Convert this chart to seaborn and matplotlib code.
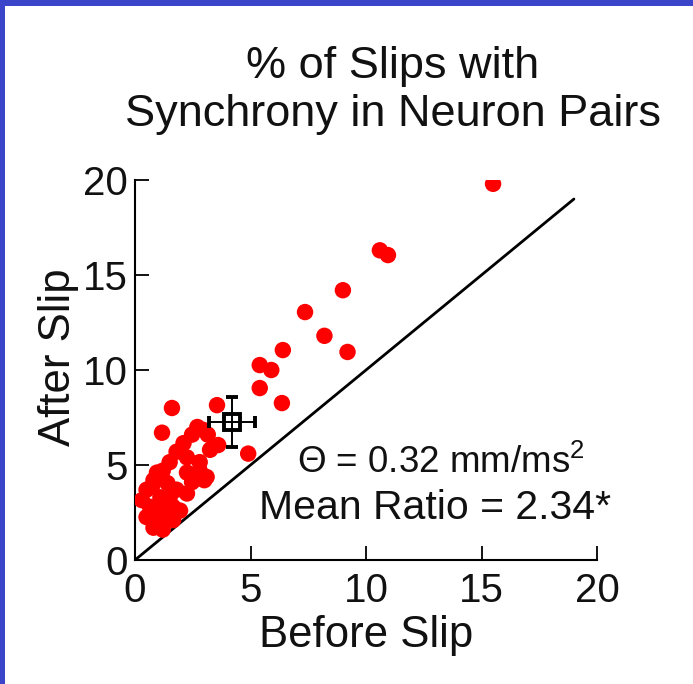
import matplotlib
matplotlib.use("Agg")
import matplotlib.pyplot as plt
import seaborn as sns
import pandas as pd
from matplotlib.patches import Rectangle

before_slip = [15.5, 10.6, 10.95, 9.0, 7.36, 8.2, 6.4, 9.2, 5.4, 5.9, 5.4, 6.36, 3.55, 1.6,
               1.17, 4.9, 3.6, 3.25, 2.8, 3.1, 2.47, 2.7, 2.47, 2.1, 1.8, 1.5, 1.2, 0.8,
               0.5, 0.3, 0.65, 0.5, 0.8, 1.2, 1.65, 1.95, 2.25, 1.8, 1.4, 2.25, 2.8, 3.0,
               1.65, 1.2, 1.1, 1.5, 1.0, 0.95, 0.73, 2.25, 2.95, 3.15]
after_slip = [19.8, 16.3, 16.05, 14.2, 13.05, 11.8, 11.05, 10.95, 10.26, 10.0, 9.05, 8.26, 8.15, 8.0,
              6.7, 5.6, 6.05, 5.8, 5.15, 4.37, 4.1, 7.0, 6.6, 6.15, 5.7, 5.15, 4.7, 4.2,
              3.7, 3.15, 2.8, 2.26, 1.7, 1.6, 2.1, 2.6, 3.5, 3.7, 4.05, 4.6, 4.7, 4.2,
              2.8, 2.6, 3.3, 3.3, 2.1, 4.6, 3.85, 5.4, 6.85, 6.6]
mean_x, mean_y = 4.2, 7.26
err_x, err_y = 1.0, 1.3
unity_line = [0, 19]
ticks = [0, 5, 10, 15, 20]
title_text = "% of Slips with\nSynchrony in Neuron Pairs"
annot_1 = "\u0398 = 0.32 mm/ms$^{\\mathregular{2}}$"
annot_2 = "Mean Ratio = 2.34*"

df = pd.DataFrame({"Before Slip": before_slip, "After Slip": after_slip})

sns.set_theme(style="white")
plt.rcParams['font.family'] = ['Liberation Sans', 'DejaVu Sans']
plt.rcParams['mathtext.fontset'] = 'custom'
plt.rcParams['mathtext.rm'] = 'Liberation Sans'

fig = plt.figure(figsize=(6.93, 6.84), dpi=100)
ax = fig.add_axes([0.1948, 0.1813, 0.6667, 0.5555])

ax.plot(unity_line, unity_line, color="black", lw=2.0, zorder=2)
sns.scatterplot(data=df, x="Before Slip", y="After Slip", ax=ax, color="#ff0000",
                s=140, edgecolor="none", linewidth=0, zorder=3)
ax.errorbar([mean_x], [mean_y], xerr=[err_x], yerr=[err_y], fmt="s", ms=12,
            mfc="none", mec="black", mew=2.8, ecolor="black", elinewidth=1.4,
            capsize=4, capthick=1.4, zorder=4)

ax.set_xlim(0, 20)
ax.set_ylim(0, 20)
ax.set_xticks(ticks)
ax.set_yticks(ticks)
ax.tick_params(axis="both", direction="in", length=10, width=1.3, labelsize=29,
               colors="black", bottom=True, left=True)
ax.tick_params(axis="x", pad=9)
ax.tick_params(axis="y", pad=5)
for lab in ax.get_xticklabels() + ax.get_yticklabels():
    lab.set_color("#111111")
for s in ["top", "right"]:
    ax.spines[s].set_visible(False)
for s in ["bottom", "left"]:
    ax.spines[s].set_color("black")
    ax.spines[s].set_linewidth(1.5)
ax.set_xlabel("Before Slip", fontsize=31.5, color="#111111", labelpad=3)
ax.set_ylabel("After Slip", fontsize=31.5, color="#111111", labelpad=6)
ax.yaxis.set_label_coords(-0.121, 0.534)
ax.set_title(title_text, fontsize=32.5, color="#111111", pad=39, linespacing=1.2,
             x=0.558)

ax.text(13.25, 5.15, annot_1, fontsize=26.5, ha="center", va="center", color="#111111")
ax.text(13.0, 2.75, annot_2, fontsize=29.5, ha="center", va="center", color="#111111")

blue = "#3B45C9"
fig.patches.append(Rectangle((0, 1 - 6 / 684), 1, 6 / 684, transform=fig.transFigure,
                             facecolor=blue, edgecolor="none", zorder=10))
fig.patches.append(Rectangle((0, 0), 5 / 693, 1, transform=fig.transFigure,
                             facecolor=blue, edgecolor="none", zorder=10))

fig.savefig("out.png", dpi=100)
